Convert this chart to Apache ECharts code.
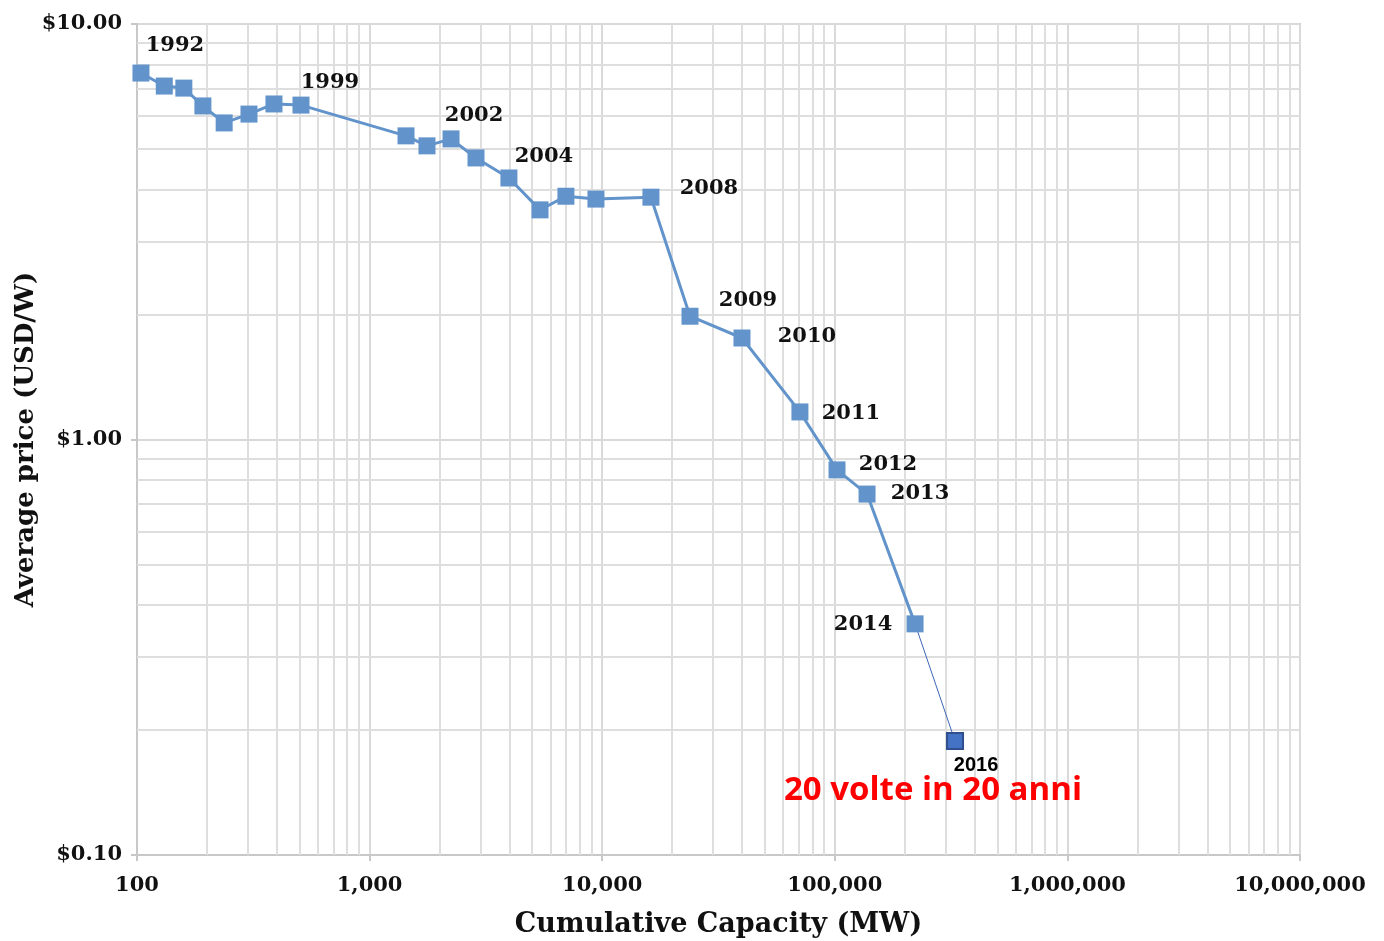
<!DOCTYPE html>
<html>
<head>
<meta charset="utf-8">
<title>PV module price vs cumulative capacity</title>
<script src="https://cdn.jsdelivr.net/npm/echarts@6/dist/echarts.min.js"></script>
<style>
  html, body { margin: 0; padding: 0; background: #ffffff; }
  #chart { width: 1384px; height: 941px; }
</style>
</head>
<body>
<div id="chart"></div>
<script>
// Years of each observation
const years = [1992, 1993, 1994, 1995, 1996, 1997, 1998, 1999, 2000, 2001, 2002, 2003,
               2004, 2005, 2006, 2007, 2008, 2009, 2010, 2011, 2012, 2013, 2014, 2016];
// Cumulative installed capacity (MW)
const capacity = [104, 131, 159, 192, 237, 303, 388, 507, 1434, 1765, 2239, 2867,
                  3972, 5403, 6982, 9400, 16200, 23850, 39900, 70800, 102200, 137600, 221300, 328800];
// Average module price (USD/W)
const price = [7.62, 7.09, 7.01, 6.35, 5.78, 6.07, 6.42, 6.38, 5.38, 5.09, 5.29, 4.76,
               4.26, 3.57, 3.85, 3.79, 3.83, 1.98, 1.755, 1.165, 0.845, 0.739, 0.36, 0.188];
// Years that carry a label on the curve
const labelledYears = [1992, 1999, 2002, 2004, 2008, 2009, 2010, 2011, 2012, 2013, 2014, 2016];
// Axis ranges and tick labels
const xTicks = [100, 1000, 10000, 100000, 1000000, 10000000];
const yTicks = [0.1, 1, 10];
const annotation = '20 volte in 20 anni';

// Label placement around each marker (pixels)
const labelOffsets = {
  1992: [34, -28], 1999: [29, -23], 2002: [23, -23], 2004: [35, -21],
  2008: [58, -9], 2009: [58, -16], 2010: [65, -1], 2011: [51, 2],
  2012: [51, -5], 2013: [53, -1], 2014: [-52, 1], 2016: [21, 24]
};

const serif = 'DejaVu Serif';
const last = years.length - 1;
const noHalo = { textBorderWidth: 0, textShadowBlur: 0 };

const mainData = [];
for (let i = 0; i < last; i++) {
  const y = years[i];
  const item = { value: [capacity[i], price[i]] };
  if (labelledYears.includes(y)) {
    item.label = { show: true, formatter: String(y), offset: labelOffsets[y] };
  }
  mainData.push(item);
}

const tailData = [
  { value: [capacity[last - 1], price[last - 1]], symbolSize: 0 },
  {
    value: [capacity[last], price[last]],
    label: Object.assign({
      show: true, position: 'inside', formatter: String(years[last]), offset: labelOffsets[years[last]],
      fontFamily: 'Liberation Sans', fontWeight: 'bold', fontSize: 20, color: '#000'
    }, noHalo)
  }
];

// Minor grid lines at 2..9 of each decade
const minorX = [];
for (let d = 100; d < 1e7; d *= 10) for (let k = 2; k <= 9; k++) minorX.push({ xAxis: d * k });
const minorY = [];
for (let d = 0.1; d < 9; d *= 10) for (let k = 2; k <= 9; k++) minorY.push({ yAxis: +(d * k).toFixed(2) });

const gridColor = '#d9d9d9';

const chart = echarts.init(document.getElementById('chart'), null, { renderer: 'canvas' });
chart.setOption({
  animation: false,
  backgroundColor: '#ffffff',
  grid: {
    left: 137, right: 84, top: 24, bottom: 86,
    containLabel: false, outerBoundsMode: 'none',
    show: true, borderColor: '#cfcfcf', borderWidth: 2
  },
  xAxis: {
    type: 'log', logBase: 10, min: xTicks[0], max: xTicks[xTicks.length - 1],
    name: 'Cumulative Capacity (MW)', nameLocation: 'middle', nameGap: 56,
    nameTextStyle: { fontFamily: serif, fontWeight: 'bold', fontSize: 27, color: '#111' },
    axisLine: { show: true, lineStyle: { color: '#c8c8c8', width: 2 } },
    axisTick: { show: true, length: 6, lineStyle: { color: '#c8c8c8', width: 2 } },
    axisLabel: {
      fontFamily: serif, fontWeight: 'bold', fontSize: 21, color: '#111', margin: 20,
      formatter: v => Math.round(v).toLocaleString('en-US')
    },
    splitLine: { show: true, lineStyle: { color: gridColor, width: 2 } },
    minorTick: { show: false }, minorSplitLine: { show: false }
  },
  yAxis: {
    type: 'log', logBase: 10, min: yTicks[0], max: yTicks[yTicks.length - 1],
    name: 'Average price (USD/W)', nameLocation: 'middle', nameGap: 98, nameRotate: 90,
    nameMoveOverlap: false,
    nameTextStyle: { fontFamily: serif, fontWeight: 'bold', fontSize: 26, color: '#111' },
    axisLine: { show: true, lineStyle: { color: '#c8c8c8', width: 2 } },
    axisTick: { show: true, length: 6, lineStyle: { color: '#c8c8c8', width: 2 } },
    axisLabel: {
      fontFamily: serif, fontWeight: 'bold', fontSize: 21, color: '#111', margin: 15,
      formatter: v => '$' + v.toFixed(2)
    },
    splitLine: { show: true, lineStyle: { color: gridColor, width: 2 } }
  },
  series: [
    {
      // minor grid
      type: 'line', data: [], silent: true, z: 1,
      markLine: {
        silent: true, symbol: 'none', animation: false, z: 1,
        label: { show: false },
        lineStyle: { color: '#dedede', width: 2, type: 'solid' },
        emphasis: { disabled: true },
        data: minorX.concat(minorY)
      }
    },
    {
      type: 'line', data: tailData, z: 3,
      symbol: 'rect', symbolSize: 16,
      lineStyle: { color: '#3d66b8', width: 1 },
      itemStyle: { color: '#4472c4', borderColor: '#2f4f8f', borderWidth: 2 },
      emphasis: { disabled: true }
    },
    {
      type: 'line', data: mainData, z: 4,
      symbol: 'rect', symbolSize: 17,
      lineStyle: { color: '#6294cb', width: 3 },
      itemStyle: { color: '#6294cb', borderWidth: 0 },
      emphasis: { disabled: true },
      label: Object.assign({
        position: 'inside', fontFamily: serif, fontWeight: 'bold', fontSize: 21, color: '#111'
      }, noHalo)
    }
  ],
  graphic: [
    {
      type: 'text', left: 784, top: 774, z: 100,
      style: {
        text: annotation, fill: '#ff0000',
        font: 'bold 33px "Open Sans", "Noto Sans", sans-serif'
      }
    }
  ]
});
</script>
</body>
</html>
